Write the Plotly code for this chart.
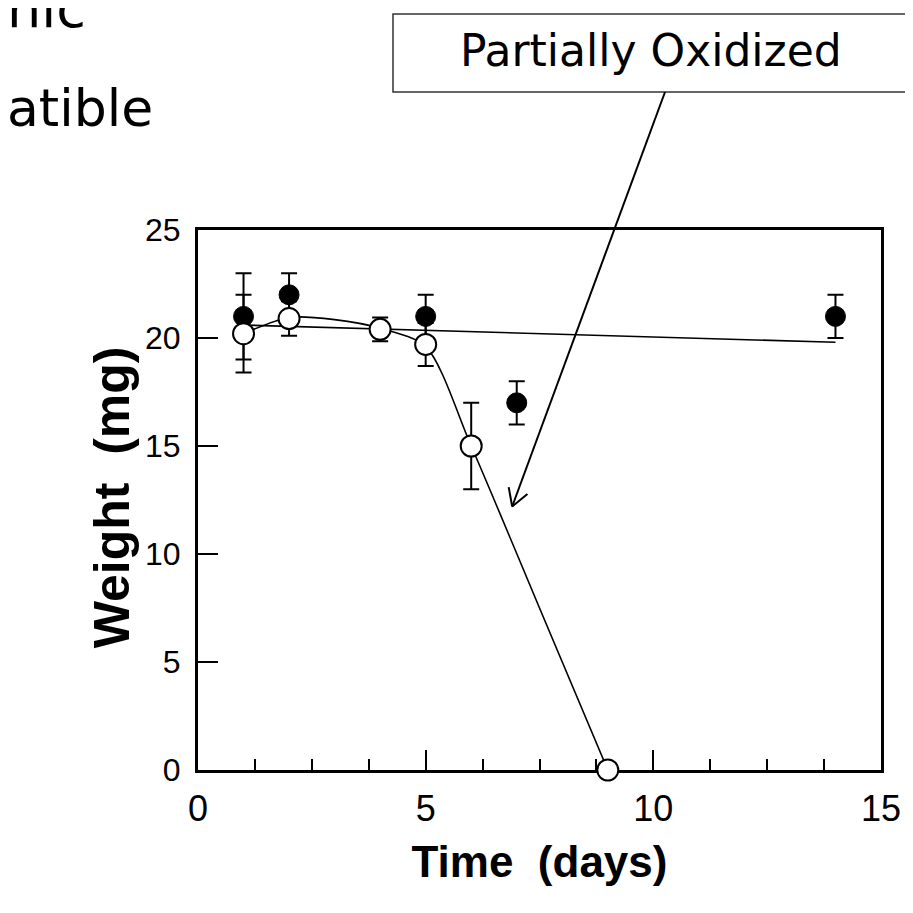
import plotly.graph_objects as go

# ---- data ----
filled_days = [1, 2, 5, 7, 14]
filled_weight = [21.0, 22.0, 21.0, 17.0, 21.0]
filled_err = [2.0, 1.0, 1.0, 1.0, 1.0]

open_days = [1, 2, 4, 5, 6, 9]
open_weight = [20.2, 20.9, 20.4, 19.7, 15.0, 0.0]
open_err = [1.8, 0.8, 0.55, 1.0, 2.0, 0.0]

filled_fit_days = [1, 14]
filled_fit_weight = [20.6, 19.8]

open_fit_days = [1, 2, 3, 4, 5, 6, 7.5, 9]
open_fit_weight = [20.2, 20.95, 20.85, 20.45, 19.6, 15.0, 7.5, 0.0]

x_ticks = [0, 5, 10, 15]
y_ticks = [0, 5, 10, 15, 20, 25]

arrow_tip_day, arrow_tip_weight = 6.9, 12.2

W, H = 913, 913
ML, MR, MT, MB = 190, 40, 222, 151
PW, PH = W - ML - MR, H - MT - MB
X_MAX, Y_MAX = 15.0, 25.0


def px(xpix):
    return (xpix - ML) / PW


def py(ypix):
    return (H - MB - ypix) / PH


fig = go.Figure()

fig.add_trace(go.Scatter(x=filled_fit_days, y=filled_fit_weight, mode="lines",
                         line=dict(color="black", width=1.6), showlegend=False))
fig.add_trace(go.Scatter(x=open_fit_days, y=open_fit_weight, mode="lines",
                         line=dict(color="black", width=1.6, shape="spline", smoothing=0.8),
                         showlegend=False, cliponaxis=False))

fig.add_trace(go.Scatter(
    x=filled_days, y=filled_weight, mode="markers",
    marker=dict(color="black", size=20, line=dict(color="black", width=1)),
    error_y=dict(type="data", array=filled_err, color="black", thickness=2, width=8),
    showlegend=False, cliponaxis=False))

fig.add_trace(go.Scatter(
    x=open_days, y=open_weight, mode="markers",
    marker=dict(color="white", size=21, line=dict(color="black", width=2)),
    error_y=dict(type="data", array=open_err, color="black", thickness=2, width=8),
    showlegend=False, cliponaxis=False))

fig.update_xaxes(
    range=[0, X_MAX], tickvals=x_ticks, ticks="inside", ticklen=20, tickwidth=2, tickcolor="black",
    minor=dict(dtick=1.25, tick0=0, ticks="inside", ticklen=11, tickwidth=2, tickcolor="black"),
    showline=True, linewidth=3, linecolor="black", mirror=True, showgrid=False, zeroline=False,
    layer="below traces",
    tickfont=dict(family="Liberation Sans, Arial, sans-serif", size=36, color="black"),
    ticklabelstandoff=5,
    title=dict(text="<b>Time  (days)</b>", standoff=18,
               font=dict(family="Liberation Sans, Arial, sans-serif", size=44, color="black")))

fig.update_yaxes(
    range=[0, Y_MAX], tickvals=y_ticks, ticks="inside", ticklen=20, tickwidth=2, tickcolor="black",
    showline=True, linewidth=3, linecolor="black", mirror=True, showgrid=False, zeroline=False,
    layer="below traces",
    tickfont=dict(family="Liberation Sans, Arial, sans-serif", size=32, color="black"),
    ticklabelstandoff=8)

# y-axis title
fig.add_annotation(xref="paper", yref="paper", x=px(104), y=0.505, text="<b>Weight  (mg)</b>",
                   textangle=-90, showarrow=False, xanchor="center", yanchor="middle",
                   font=dict(family="Liberation Sans, Arial, sans-serif", size=50, color="black"))

# label box
fig.add_shape(type="rect", xref="paper", yref="paper",
              x0=px(385), x1=px(935), y0=py(84), y1=py(6),
              line=dict(color="#333333", width=1.5), fillcolor="white", layer="above")
fig.add_annotation(xref="paper", yref="paper", x=px(643), y=py(42), text="Partially Oxidized",
                   showarrow=False, xanchor="center", yanchor="middle",
                   font=dict(family="DejaVu Sans, sans-serif", size=44, color="black"))

# arrow from box to curve: shaft plus open V head
tip_x = ML + arrow_tip_day / X_MAX * PW
tip_y = MT + (1 - arrow_tip_weight / Y_MAX) * PH
start_x, start_y = 657.0, 84.0
dx, dy = tip_x - start_x, tip_y - start_y
L = (dx * dx + dy * dy) ** 0.5
ux, uy = dx / L, dy / L
nx, ny = uy, -ux
back, half = 17.0, 10.0
bx, by = tip_x - back * ux, tip_y - back * uy
arrow_line = dict(color="black", width=2)
fig.add_shape(type="line", xref="paper", yref="paper",
              x0=px(start_x), y0=py(start_y), x1=px(tip_x), y1=py(tip_y), line=arrow_line)
for s in (1, -1):
    fig.add_shape(type="line", xref="paper", yref="paper",
                  x0=px(bx + s * half * nx), y0=py(by + s * half * ny),
                  x1=px(tip_x), y1=py(tip_y), line=arrow_line)

# cut-off slide text
fig.add_annotation(xref="paper", yref="paper", x=px(-3), y=py(34), text="nic",
                   showarrow=False, xanchor="left", yanchor="bottom",
                   font=dict(family="DejaVu Sans, sans-serif", size=54, color="black"))
fig.add_annotation(xref="paper", yref="paper", x=px(-3), y=py(132), text="atible",
                   showarrow=False, xanchor="left", yanchor="bottom",
                   font=dict(family="DejaVu Sans, sans-serif", size=52, color="black"))

fig.update_layout(width=W, height=H, margin=dict(l=ML, r=MR, t=MT, b=MB),
                  paper_bgcolor="white", plot_bgcolor="white", showlegend=False)

fig.write_html("out.html")
